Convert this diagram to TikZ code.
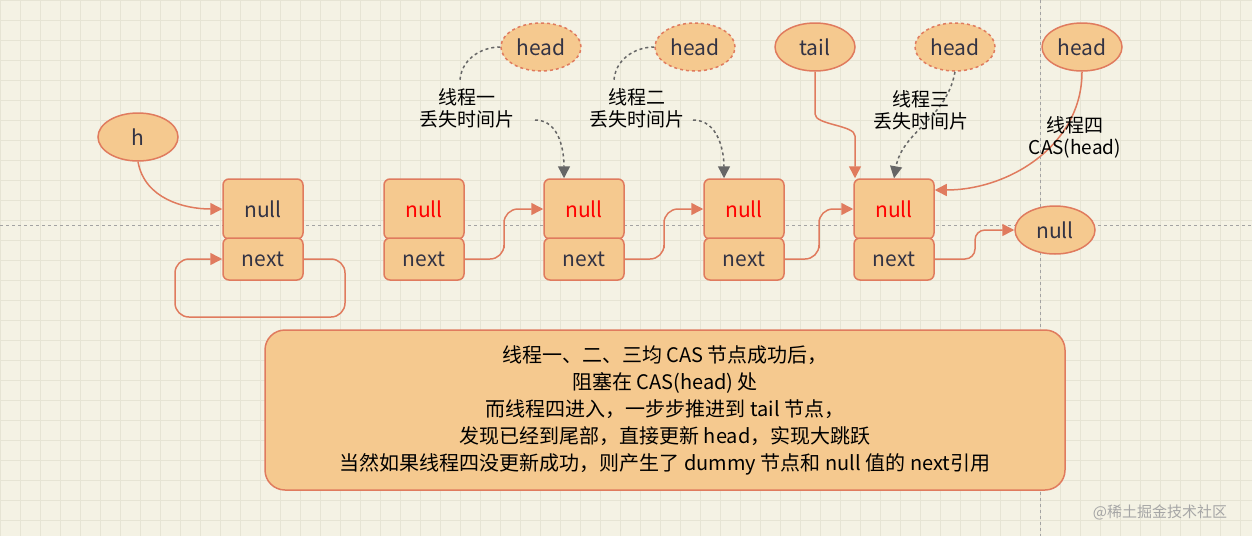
\documentclass[tikz,border=0pt]{standalone}
\usepackage{fontspec}
\setmainfont{Noto Sans CJK SC}
\usetikzlibrary{shapes.geometric,arrows.meta,calc}
\definecolor{bg}{HTML}{F4F2E4}
\definecolor{grid}{HTML}{E6E4D4}
\definecolor{fillc}{HTML}{F5C98F}
\definecolor{linec}{HTML}{E07B5E}
\definecolor{txt}{HTML}{333344}
\definecolor{darkg}{HTML}{666666}
\tikzset{
 every node/.style={font=\fontsize{21}{24}\selectfont},
 ell/.style={ellipse,draw=linec,fill=fillc,line width=1.5pt,minimum width=80pt,minimum height=48pt,text=txt,inner sep=0pt},
 dell/.style={ell,dashed},
 topbox/.style={draw=linec,fill=fillc,line width=1.5pt,rounded corners=6pt,minimum width=80pt,minimum height=60pt,text=txt},
 botbox/.style={draw=linec,fill=fillc,line width=1.5pt,rounded corners=6pt,minimum width=80pt,minimum height=42pt,text=txt},
 link/.style={draw=linec,line width=1.5pt,-{Triangle[length=12pt,width=12pt]},rounded corners=14pt},
 dlink/.style={draw=darkg,line width=1.5pt,dashed,-{Triangle[length=12pt,width=12pt]}},
 lbl/.style={align=center,font=\fontsize{19}{22}\selectfont},
}
\begin{document}
\begin{tikzpicture}[x=1pt,y=-1pt]
\useasboundingbox (0,0) rectangle (1252,536);
\fill[bg] (0,0) rectangle (1252,536);
\draw[grid,line width=0.5pt] (0,0) grid[step=20pt] (1252,536);
\draw[darkg!60,dashed,line width=0.8pt] (0,225) -- (1252,225);
\draw[darkg!60,dashed,line width=0.8pt] (1040,0) -- (1040,536);

% nodes
\node[ell] (h) at (138,137) {h};
\foreach \i/\x/\c in {1/263/txt,2/424/red,3/584/red,4/744/red,5/894/red}{
  \node[topbox,text=\c] (n\i) at (\x,209) {null};
  \node[botbox] (x\i) at (\x,259) {next};
}
\node[ell] (nul) at (1055,230) {null};
\node[dell] (hd1) at (541,47) {head};
\node[dell] (hd2) at (695,47) {head};
\node[ell] (tail) at (815,47) {tail};
\node[dell] (hd3) at (955,47) {head};
\node[ell] (hd4) at (1082,47) {head};

% self loop
\coordinate (l1) at (345,317);
\coordinate (l2) at (175,317);
\draw[link] (x1.east) -- (345,259) -- (l1) -- (l2) -- (175,259) -- (x1.west);
\draw[link] (h.south) to[out=-80,in=180] (n1.west);
% chain
\foreach \a/\b in {2/3,3/4,4/5}{
  \draw[link] (x\a.east) -| ($(x\a.east)!0.5!(n\b.west)$) |- (n\b.west);
}
\coordinate (m5) at (975,259);
\coordinate (m6) at (975,230);
\draw[link,rounded corners=10pt] (x5.east) -- (m5) -- (m6) -- (nul.west);

% thread connectors
\coordinate (a1) at (460,82);
\coordinate (b1) at (535,120);
\coordinate (a2) at (614,82);
\coordinate (b2) at (693,120);
\draw[darkg,line width=1.5pt,dashed] (hd1.west) to[out=180,in=90] (a1);
\draw[dlink] (b1) to[out=0,in=90] ([xshift=-20pt]n3.north);
\draw[darkg,line width=1.5pt,dashed] (hd2.west) to[out=180,in=90] (a2);
\draw[dlink] (b2) to[out=0,in=90] ([xshift=-20pt]n4.north);
\draw[dlink] (hd3.south) to[out=-100,in=80] (n5.north);
\draw[link] (tail.south) -- (815,100) to[out=-90,in=90] (855,150) -- ([xshift=-39pt]n5.north);
\draw[link] (hd4.south) to[out=-90,in=0] ([yshift=19pt]n5.east);

% thread labels
\node[lbl] (t1) at (467,108) {线程一\\丢失时间片};
\node[lbl] (t2) at (637,108) {线程二\\丢失时间片};
\node[lbl] (t3) at (921,110) {线程三\\丢失时间片};
\node[lbl] (t4) at (1075,137) {线程四\\CAS(head)};

% bottom box
\node[draw=linec,fill=fillc,line width=1.5pt,rounded corners=20pt,minimum width=800pt,minimum height=160pt,align=center,font=\fontsize{20}{27}\selectfont] (note) at (665,410)
{线程一、二、三均 CAS 节点成功后，\\阻塞在 CAS(head) 处\\而线程四进入，一步步推进到 tail 节点，\\发现已经到尾部，直接更新 head，实现大跳跃\\当然如果线程四没更新成功，则产生了 dummy 节点和 null 值的 next引用};
\node[text=gray!70,font=\fontsize{15}{17}\selectfont] (wm) at (1160,512) {@稀土掘金技术社区};
\end{tikzpicture}
\end{document}
